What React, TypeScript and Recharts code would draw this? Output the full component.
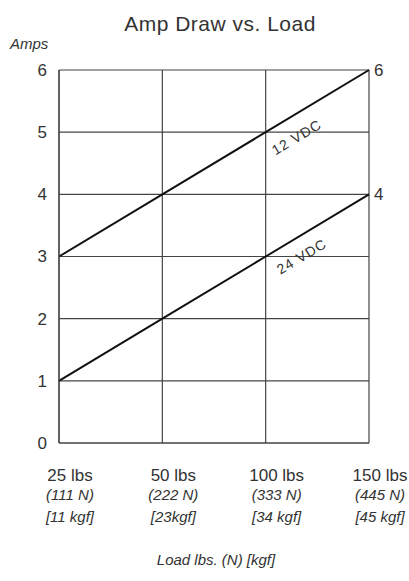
import React from 'react';
import { LineChart, Line, XAxis, YAxis, CartesianGrid } from 'recharts';

const positions = [0, 1, 2, 3];
const loadLbs = ['25 lbs', '50 lbs', '100 lbs', '150 lbs'];
const loadN = ['(111 N)', '(222 N)', '(333 N)', '(445 N)'];
const loadKgf = ['[11 kgf]', '[23kgf]', '[34 kgf]', '[45 kgf]'];
const amps12 = [3, 4, 5, 6];
const amps24 = [1, 2, 3, 4];
const yTicks = [0, 1, 2, 3, 4, 5, 6];
const rightTicks = [4, 6];

const data = positions.map((p, i) => ({ x: p, v12: amps12[i], v24: amps24[i] }));

const FONT = '"Liberation Sans", Arial, sans-serif';
const TXT = '#333';

const XTick = (props: any) => {
  const { x, y, index } = props;
  const cx = x + 11;
  return (
    <g>
      <text x={cx} y={y + 38} textAnchor="middle" fontSize={17} fill={TXT} fontFamily={FONT}>{loadLbs[index]}</text>
      <text x={cx} y={y + 57} textAnchor="middle" fontSize={15} fontStyle="italic" fill={TXT} fontFamily={FONT}>{loadN[index]}</text>
      <text x={cx} y={y + 79} textAnchor="middle" fontSize={15} fontStyle="italic" fill={TXT} fontFamily={FONT}>{loadKgf[index]}</text>
    </g>
  );
};

const LeftTick = (props: any) => {
  const { x, y, payload } = props;
  return (
    <text x={x - 12} y={y} dy="0.35em" textAnchor="end" fontSize={17} fill={TXT} fontFamily={FONT}>{payload.value}</text>
  );
};

const RightTick = (props: any) => {
  const { x, y, payload } = props;
  return (
    <text x={x + 5} y={y} dy="0.35em" textAnchor="start" fontSize={17} fill={TXT} fontFamily={FONT}>{payload.value}</text>
  );
};

const lineLabel = (name: string, dx: number, dy: number) => (props: any) => {
  const { x, y, index } = props;
  if (index !== 2) return <g />;
  const tx = x + dx;
  const ty = y + dy;
  return (
    <text x={tx} y={ty} dy="0.35em" textAnchor="middle" fontSize={14} letterSpacing={1} fill={TXT} fontFamily={FONT}
      transform={`rotate(-31, ${tx}, ${ty})`}>{name}</text>
  );
};

export default function App() {
  return (
    <div style={{ position: 'absolute', left: 0, top: 0, width: 409, height: 581, background: '#fff' }}>
      <div style={{ position: 'absolute', left: 0, top: 12, width: 440, textAlign: 'center', fontFamily: FONT, fontSize: 21, color: TXT, letterSpacing: 0.5 }}>
        Amp Draw vs. Load
      </div>
      <div style={{ position: 'absolute', left: 10, top: 35, fontFamily: FONT, fontSize: 15, fontStyle: 'italic', color: TXT }}>
        Amps
      </div>
      <div style={{ position: 'absolute', left: 0, top: 551, width: 432, textAlign: 'center', fontFamily: FONT, fontSize: 15, fontStyle: 'italic', color: TXT }}>
        Load lbs. (N) [kgf]
      </div>
      <LineChart width={409} height={581} data={data} margin={{ top: 70, right: 0, left: 0, bottom: 0 }} style={{ position: 'absolute', left: 0, top: 0 }}>
        <CartesianGrid yAxisId="left" stroke="#444" strokeWidth={1.2} />
        <XAxis dataKey="x" type="number" domain={[0, 3]} ticks={positions} height={138}
          tickLine={false} tickSize={0} tickMargin={0} axisLine={{ stroke: '#444', strokeWidth: 1.2 }} tick={<XTick />} interval={0} />
        <YAxis yAxisId="left" orientation="left" type="number" domain={[0, 6]} ticks={yTicks} width={59}
          tickLine={false} tickSize={0} tickMargin={0} axisLine={{ stroke: '#444', strokeWidth: 1.2 }} tick={<LeftTick />} interval={0} />
        <YAxis yAxisId="right" orientation="right" type="number" domain={[0, 6]} ticks={rightTicks} width={40}
          tickLine={false} tickSize={0} tickMargin={0} axisLine={false} tick={<RightTick />} interval={0} />
        <Line yAxisId="left" type="linear" dataKey="v12" stroke="#111" strokeWidth={2} dot={false} isAnimationActive={false}
          label={lineLabel('12 VDC', 31, 5)} />
        <Line yAxisId="right" type="linear" dataKey="v24" stroke="#111" strokeWidth={2} dot={false} isAnimationActive={false}
          label={lineLabel('24 VDC', 36, 0)} />
      </LineChart>
    </div>
  );
}
